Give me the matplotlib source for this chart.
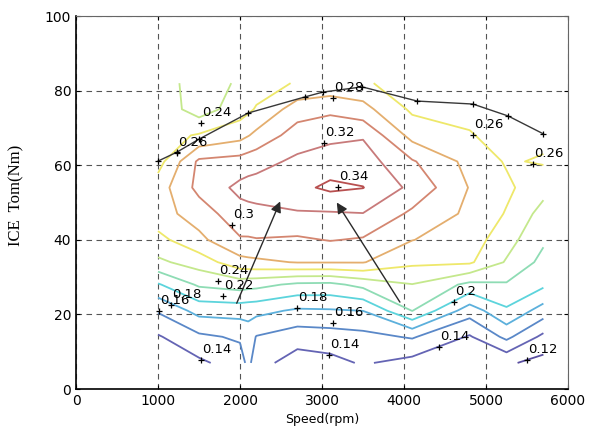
import numpy as np
import matplotlib
matplotlib.use("Agg")
import matplotlib.pyplot as plt

# engine efficiency map
speed = [1000, 1500, 2000, 2100, 2200, 2700, 3100, 3500, 4100, 4800, 5250, 5700]
torque = [7, 14, 21, 28, 34, 40, 47, 54, 61, 68, 75, 82]
eff = [
    [0.125, 0.136, 0.150, 0.166, 0.148, 0.130, 0.134, 0.142, 0.133, 0.124, 0.123, 0.113],
    [0.138, 0.156, 0.163, 0.170, 0.159, 0.149, 0.151, 0.154, 0.162, 0.138, 0.165, 0.135],
    [0.162, 0.187, 0.188, 0.187, 0.186, 0.177, 0.178, 0.1802, 0.2205, 0.169, 0.197, 0.171],
    [0.198, 0.223, 0.229, 0.227, 0.226, 0.216, 0.215, 0.226, 0.2395, 0.215, 0.218, 0.204],
    [0.236, 0.249, 0.273, 0.275, 0.276, 0.281, 0.281, 0.281, 0.264, 0.263, 0.238, 0.214],
    [0.254, 0.275, 0.298, 0.298, 0.299, 0.297, 0.301, 0.298, 0.2805, 0.270, 0.248, 0.223],
    [0.272, 0.289, 0.313, 0.314, 0.315, 0.318, 0.318, 0.3195, 0.296, 0.276, 0.2585, 0.2325],
    [0.270, 0.306, 0.325, 0.327, 0.328, 0.335, 0.344, 0.3405, 0.315, 0.279, 0.264, 0.247],
    [0.252, 0.304, 0.308, 0.311, 0.313, 0.324, 0.330, 0.330, 0.302, 0.274, 0.258, 0.262],
    [0.252, 0.262, 0.273, 0.279, 0.285, 0.310, 0.315, 0.318, 0.273, 0.2615, 0.252, 0.255],
    [0.254, 0.230, 0.2505, 0.256, 0.262, 0.290, 0.2956, 0.2867, 0.2565, 0.254, 0.249, 0.250],
    [0.252, 0.229, 0.243, 0.245, 0.250, 0.262, 0.265, 0.265, 0.242, 0.250, 0.246, 0.248],
]
levels = [0.12, 0.14, 0.16, 0.18, 0.20, 0.22, 0.24, 0.26, 0.28, 0.30, 0.32, 0.34]
level_colors = ["#5a4fa0", "#6464b4", "#5a88c8", "#5cb0dc", "#5cd4dc", "#8edcb4",
                "#c4e88c", "#eee86a", "#e4ae6e", "#d48670", "#c87a7a", "#b85050"]

# maximum torque curve
max_speed = [1000, 1230, 1500, 2100, 2790, 3010, 3490, 4160, 4840, 5270, 5700]
max_torque = [61.1, 63.5, 67.0, 74.0, 78.3, 79.6, 81.0, 77.2, 76.4, 73.2, 68.4]

# contour labels (MATLAB clabel style)
label_speed = [1524, 1232, 3134, 3024, 3195, 1902, 4841, 5573, 1732, 1793,
               1159, 1012, 1524, 2695, 3134, 3085, 4610, 4427, 5500]
label_torque = [71.3, 63.3, 78.0, 66.0, 54.2, 44.0, 68.1, 60.3, 29.0, 24.9,
                22.5, 20.9, 7.8, 21.7, 17.7, 9.1, 23.3, 11.3, 7.8]
label_text = ["0.24", "0.26", "0.28", "0.32", "0.34", "0.3", "0.26", "0.26", "0.24", "0.22",
              "0.18", "0.16", "0.14", "0.18", "0.16", "0.14", "0.2", "0.14", "0.12"]

# arrows: (tail speed, tail torque, head speed, head torque)
arrows = [(1960, 23.0, 2490, 50.3), (3950, 23.3, 3180, 50.0)]

fig = plt.figure(figsize=(5.91, 4.45), dpi=100)
ax = fig.add_axes([0.1286, 0.1258, 0.8325, 0.8382])

ax.contour(speed, torque, np.array(eff), levels=levels, colors=level_colors,
           linewidths=1.3)

ax.plot(max_speed, max_torque, color="#383838", lw=1.0, marker="+",
        ms=5, mew=0.9, mec="k")

ax.plot(label_speed, label_torque, "+", color="k", ms=5, mew=0.9, ls="none")
for x, y, t in zip(label_speed, label_torque, label_text):
    ax.annotate(t, (x, y), xytext=(1, 3), textcoords="offset points",
                ha="left", va="bottom", fontsize=9.5)

for x0, y0, x1, y1 in arrows:
    ax.annotate("", xy=(x1, y1), xytext=(x0, y0),
                arrowprops=dict(arrowstyle="-|>", color="#2a2a2a", lw=1.0,
                                mutation_scale=16, shrinkA=0, shrinkB=0))

ax.set_xlim(0, 6000)
ax.set_ylim(0, 100)
ax.set_xticks(range(0, 6001, 1000))
ax.set_yticks(range(0, 101, 20))
ax.tick_params(direction="in", length=3, labelsize=10, top=True, right=True)
ax.grid(True, linestyle=(0, (5, 4)), color="#555555", linewidth=0.8)
ax.set_axisbelow(True)
for s in ["left", "bottom"]:
    ax.spines[s].set_color("black")
    ax.spines[s].set_linewidth(1.2)
for s in ["top", "right"]:
    ax.spines[s].set_color("#666666")

ax.set_xlabel("Speed(rpm)", fontsize=9)
ax.set_ylabel("ICE  Tom(Nm)", fontsize=12, family="Liberation Serif")
ax.yaxis.set_label_coords(-0.105, 0.52)

fig.savefig("out.png", dpi=100)
